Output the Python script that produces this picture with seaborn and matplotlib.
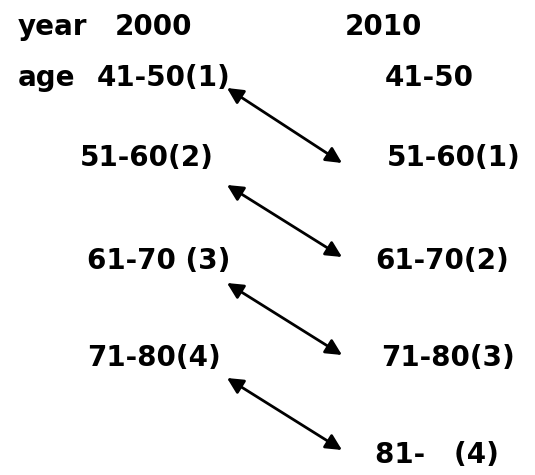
import matplotlib
matplotlib.use("Agg")
import matplotlib.pyplot as plt
import seaborn as sns

# data: the age groups of 2000 and where they sit in 2010
years = ["2000", "2010"]
ages_2000 = ["41-50(1)", "51-60(2)", "61-70 (3)", "71-80(4)"]
ages_2010 = ["41-50", "51-60(1)", "61-70(2)", "71-80(3)", "81-   (4)"]
links = [(0, 1), (1, 2), (2, 3), (3, 4)]  # row in 2000 -> row in 2010

sns.set_style("white")
plt.rcParams["font.family"] = ["DejaVu Sans"]

fig = plt.figure(figsize=(5.35, 4.75), dpi=100)
ax = fig.add_axes([0, 0, 1, 1])
ax.set_xlim(0, 535)
ax.set_ylim(475, 0)
ax.axis("off")

fs = 20
kw = dict(fontsize=fs, fontweight="bold", va="center", ha="left", color="black")

# layout
row_y = [78, 158, 261, 358, 455]
left_x = [97, 80, 87, 87]
right_x = [385, 387, 375, 381, 375]
arrow_top = [88, 185, 283, 378]
arrow_bot = [163, 257, 355, 450]

ax.text(18, 27, "year", **kw)
ax.text(115, 27, years[0], **kw)
ax.text(345, 27, years[1], **kw)
ax.text(18, row_y[0], "age", **kw)

for lab, x, y in zip(ages_2000, left_x, row_y):
    ax.text(x, y, lab, **kw)
for lab, x, y in zip(ages_2010, right_x, row_y):
    ax.text(x, y, lab, **kw)

for k, (i, j) in enumerate(links):
    ax.annotate("", xy=(342, arrow_bot[k]), xytext=(227, arrow_top[k]),
                arrowprops=dict(arrowstyle="<|-|>", color="black", lw=2,
                                mutation_scale=24, shrinkA=0, shrinkB=0))

fig.savefig("out.png", dpi=100)
